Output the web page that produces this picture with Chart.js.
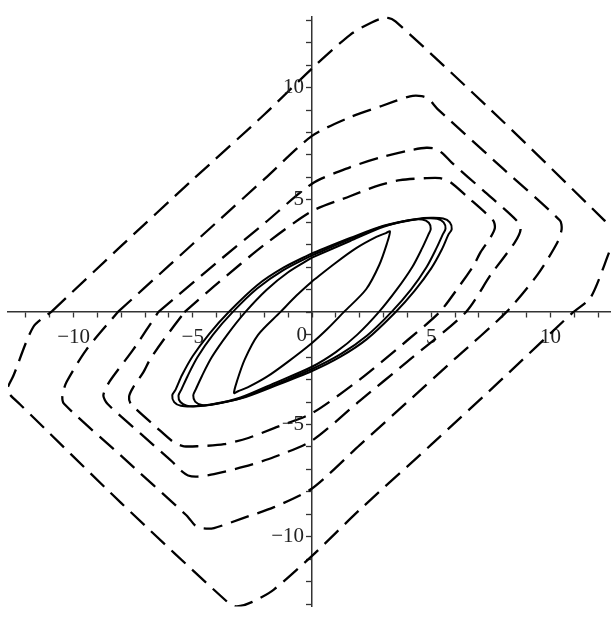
<!DOCTYPE html>
<html>
<head>
<meta charset="utf-8">
<title>Cycles et orbites</title>
<script src="https://cdn.jsdelivr.net/npm/chart.js@4.4.0/dist/chart.umd.min.js"></script>
<style>
  html, body { margin: 0; padding: 0; background: #fff; }
  #cadre { width: 611px; height: 623px; }
</style>
</head>
<body>
<div id="cadre"><canvas id="graphique-cycles" width="611" height="623"></canvas></div>
<script>
// Bornes des axes
const X_MIN = -12.75, X_MAX = 12.54;
const Y_MIN = -13.1, Y_MAX = 13.16;

// Graduations étiquetées (le zéro est écrit à part)
const graduations = [-10, -5, 5, 10];

// Orbites en tirets, de la plus petite à la plus grande
const orbite1 = [[-5.35,0],[-4,1.25],[-2,3.0],[0,4.5],[1.59,5.16],[2.64,5.59],[3.69,5.88],[4.81,5.97],[5.37,5.97],[5.79,5.8],[6.49,5.16],[7.6,4.08],[7.67,3.75],[7.5,3.35],[7.07,2.67],[6.79,2.1],[6.23,1.24],[5.35,0],[4,-1.25],[2,-3.0],[0,-4.5],[-1.59,-5.16],[-2.64,-5.59],[-3.69,-5.88],[-4.81,-5.97],[-5.37,-5.97],[-5.79,-5.8],[-6.49,-5.16],[-7.6,-4.08],[-7.67,-3.75],[-7.5,-3.35],[-7.07,-2.67],[-6.79,-2.1],[-6.23,-1.24],[-5.35,0]];
const orbite2 = [[-6.45,0],[-4,2.2],[-2,3.95],[0,5.72],[1.59,6.45],[2.85,6.88],[4.11,7.21],[4.8,7.32],[5.2,7.27],[5.5,7.05],[5.86,6.66],[7.2,5.4],[8.58,4.08],[8.75,3.7],[8.5,3.1],[7.5,1.67],[6.45,0],[4,-2.2],[2,-3.95],[0,-5.72],[-1.59,-6.45],[-2.85,-6.88],[-4.11,-7.21],[-4.8,-7.32],[-5.2,-7.27],[-5.5,-7.05],[-5.86,-6.66],[-7.2,-5.4],[-8.58,-4.08],[-8.75,-3.7],[-8.5,-3.1],[-7.5,-1.67],[-6.45,0]];
const orbite3 = [[-8.15,0],[-6,2.07],[-4,4.0],[-2,5.92],[0,7.85],[1.59,8.68],[2.92,9.18],[4.11,9.61],[4.6,9.62],[4.9,9.5],[5.1,9.25],[5.28,9.03],[8,6.4],[10.4,4.08],[10.47,3.7],[10.29,3.1],[9.46,1.67],[8.15,0],[6,-2.07],[4,-4.0],[2,-5.92],[0,-7.85],[-1.59,-8.68],[-2.92,-9.18],[-4.11,-9.61],[-4.6,-9.62],[-4.9,-9.5],[-5.1,-9.25],[-5.28,-9.03],[-8,-6.4],[-10.4,-4.08],[-10.47,-3.7],[-10.29,-3.1],[-9.46,-1.67],[-8.15,0]];
const orbite4 = [[-10.9,0.05],[-8,2.95],[-5,5.9],[-2,8.8],[0,10.85],[1.6,12.35],[2.5,12.9],[3.1,13.12],[3.5,12.95],[8,8.5],[12.24,4.11],[12.66,3.68],[12.77,3.4],[12.52,2.82],[11.69,0.66],[10.9,-0.05],[8,-2.95],[5,-5.9],[2,-8.8],[0,-10.85],[-1.6,-12.35],[-2.5,-12.9],[-3.15,-13.1],[-3.5,-12.95],[-8,-8.5],[-12.24,-4.11],[-12.66,-3.68],[-12.77,-3.4],[-12.52,-2.82],[-11.69,-0.66],[-10.9,0.05]];

// Cycles d'hystérésis en traits pleins
const cycleA = [[0,1.37],[1.0,2.2],[1.87,2.86],[2.7,3.35],[3.1,3.52],[3.27,3.6],[3.14,3.05],[2.82,2.1],[2.27,1.02],[1.33,0],[0.64,-0.75],[0,-1.37],[-1.0,-2.2],[-1.87,-2.86],[-2.7,-3.35],[-3.1,-3.52],[-3.27,-3.6],[-3.14,-3.05],[-2.82,-2.1],[-2.27,-1.02],[-1.33,0],[-0.64,0.75],[0,1.37]];
const cycleB = [[0,2.43],[-1.0,1.78],[-1.9,1.0],[-2.8,0],[-3.55,-1.0],[-4.2,-2.0],[-4.62,-2.85],[-4.88,-3.45],[-4.98,-3.7],[-4.9,-3.98],[-4.62,-4.13],[-4.1,-4.1],[-3.0,-3.8],[-1.6,-3.17],[0,-2.43],[1.0,-1.78],[1.9,-1.0],[2.8,0],[3.55,1.0],[4.2,2.0],[4.62,2.85],[4.88,3.45],[4.98,3.7],[4.9,3.98],[4.62,4.13],[4.1,4.1],[3.0,3.8],[1.6,3.17],[0,2.43]];
const cycleC = [[0,2.53],[-1.2,1.87],[-2.3,1.05],[-3.33,0],[-4.15,-1.0],[-4.8,-2.0],[-5.22,-2.85],[-5.48,-3.45],[-5.6,-3.72],[-5.52,-4.0],[-5.25,-4.16],[-4.8,-4.18],[-4.2,-4.1],[-3.0,-3.83],[-1.6,-3.25],[0,-2.53],[1.2,-1.87],[2.3,-1.05],[3.33,0],[4.15,1.0],[4.8,2.0],[5.22,2.85],[5.48,3.45],[5.6,3.72],[5.52,4.0],[5.25,4.16],[4.8,4.18],[4.2,4.1],[3.0,3.83],[1.6,3.25],[0,2.53]];
const cycleD = [[0,2.62],[-1.2,1.98],[-2.3,1.2],[-3.5,0],[-4.3,-0.95],[-5.0,-1.95],[-5.45,-2.8],[-5.72,-3.45],[-5.86,-3.7],[-5.78,-4.0],[-5.5,-4.17],[-5.0,-4.2],[-4.4,-4.15],[-3.0,-3.85],[-1.6,-3.3],[0,-2.62],[1.2,-1.98],[2.3,-1.2],[3.5,0],[4.3,0.95],[5.0,1.95],[5.45,2.8],[5.72,3.45],[5.86,3.7],[5.78,4.0],[5.5,4.17],[5.0,4.2],[4.4,4.15],[3.0,3.85],[1.6,3.3],[0,2.62]];

const POLICE = '"Liberation Serif", "Times New Roman", serif';
const TAILLE = 21;

function points(liste) {
  return liste.map(([x, y]) => ({ x: x, y: y }));
}

function enTirets(liste) {
  return { data: points(liste), showLine: true, fill: false, borderColor: '#000',
    borderWidth: 2.3, borderDash: [19, 9], pointRadius: 0, tension: 0.25 };
}

function enPlein(liste) {
  return { data: points(liste), showLine: true, fill: false, borderColor: '#000',
    borderWidth: 2, pointRadius: 0, tension: 0.3 };
}

function texte(v) {
  return v < 0 ? '\u2212' + (-v) : String(v);
}

function etiquetteX(v) {
  return graduations.includes(v) ? texte(v) : '';
}

// Étiquettes de l'axe vertical et du zéro, placées à gauche de l'axe
const etiquettesY = {
  id: 'etiquettesY',
  afterDraw(chart) {
    const { ctx, scales } = chart;
    const x0 = scales.x.getPixelForValue(0);
    const y0 = scales.y.getPixelForValue(0);
    ctx.save();
    ctx.font = TAILLE + 'px ' + POLICE;
    ctx.fillStyle = '#222';
    ctx.textAlign = 'right';
    ctx.textBaseline = 'middle';
    graduations.forEach(function (g) {
      ctx.fillText(texte(g), x0 - 8, scales.y.getPixelForValue(g));
    });
    ctx.textBaseline = 'top';
    ctx.fillText('0', x0 - 5, y0 + 13);
    ctx.restore();
  }
};

function axe(min, max, position, callback, padding) {
  return {
    type: 'linear', min: min, max: max, position: position,
    border: { display: true, color: '#333', width: 1.5 },
    grid: { drawOnChartArea: false, drawTicks: true, tickLength: 5, tickColor: '#333', tickWidth: 1.3 },
    ticks: { stepSize: 1, autoSkip: false, includeBounds: false, maxRotation: 0, padding: padding,
      color: '#222', font: { family: POLICE, size: TAILLE }, callback: callback }
  };
}

const ctx = document.getElementById('graphique-cycles').getContext('2d');
new Chart(ctx, {
  type: 'scatter',
  data: {
    datasets: [
      enTirets(orbite1), enTirets(orbite2), enTirets(orbite3), enTirets(orbite4),
      enPlein(cycleA), enPlein(cycleB), enPlein(cycleC), enPlein(cycleD)
    ]
  },
  options: {
    responsive: false,
    animation: false,
    layout: { padding: { left: 8, right: 0, top: 6, bottom: 8 } },
    plugins: { legend: { display: false }, tooltip: { enabled: false } },
    scales: {
      x: axe(X_MIN, X_MAX, { y: 0 }, etiquetteX, 8),
      y: axe(Y_MIN, Y_MAX, { x: 0 }, () => '', 4)
    }
  },
  plugins: [etiquettesY]
});
</script>
</body>
</html>
